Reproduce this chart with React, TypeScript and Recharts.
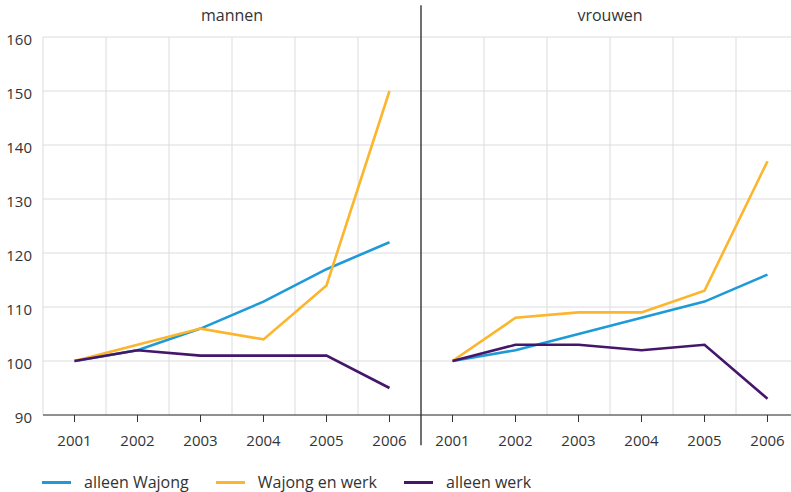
import { LineChart, Line, XAxis, YAxis, CartesianGrid, ReferenceLine } from 'recharts';

const years = ['2001', '2002', '2003', '2004', '2005', '2006'];
const panels = ['mannen', 'vrouwen'];
const seriesNames = ['alleen Wajong', 'Wajong en werk', 'alleen werk'];
const seriesColors = ['#1f9ad8', '#fcb52c', '#44176b'];

const mannenAlleenWajong = [100, 102, 106, 111, 117, 122];
const mannenWajongEnWerk = [100, 103, 106, 104, 114, 150];
const mannenAlleenWerk = [100, 102, 101, 101, 101, 95];
const vrouwenAlleenWajong = [100, 102, 105, 108, 111, 116];
const vrouwenWajongEnWerk = [100, 108, 109, 109, 113, 137];
const vrouwenAlleenWerk = [100, 103, 103, 102, 103, 93];

const yTicks = [90, 100, 110, 120, 130, 140, 150, 160];

const panelSeries = [
  [mannenAlleenWajong, mannenWajongEnWerk, mannenAlleenWerk],
  [vrouwenAlleenWajong, vrouwenWajongEnWerk, vrouwenAlleenWerk],
];

// one row per x slot: 6 for mannen, then 6 for vrouwen
const data = panels.flatMap((_, p) =>
  years.map((year, i) => {
    const row: Record<string, number | string> = { idx: p * years.length + i, year };
    panelSeries[p].forEach((vals, s) => {
      row[`p${p}s${s}`] = vals[i];
    });
    return row;
  })
);

const n = years.length * panels.length;
const xDomain = [-0.5, n - 0.5];
const xTicks = data.map((d) => d.idx as number);
const bandEdges = Array.from({ length: n + 1 }, (_, i) => i - 0.5).filter(
  (v) => v !== years.length - 0.5
);

const font = '"Open Sans", sans-serif';
const textColor = '#333';

// vertical grid sits on the band edges between the years
const bandGrid = ({ offset }: any) =>
  bandEdges.map((v) => offset.left + ((v - xDomain[0]) / (xDomain[1] - xDomain[0])) * offset.width);

export default function App() {
  return (
    <div
      style={{
        position: 'absolute',
        left: 0,
        top: 0,
        width: 791,
        height: 492,
        overflow: 'hidden',
        background: '#fff',
        fontFamily: font,
      }}
    >
      <LineChart width={799} height={492} data={data} margin={{ top: 37, right: 0, bottom: 0, left: 0 }}>
        <CartesianGrid stroke="#dcdcdc" strokeWidth={1} verticalCoordinatesGenerator={bandGrid} />
        <XAxis
          dataKey="idx"
          type="number"
          domain={xDomain}
          ticks={xTicks}
          tickFormatter={(v: number) => years[v % years.length]}
          height={77}
          tickSize={7}
          tickMargin={13}
          stroke="#333"
          tick={{ fill: textColor, fontSize: 15, fontFamily: font }}
        />
        <YAxis
          domain={[90, 160]}
          ticks={yTicks}
          width={43}
          axisLine={false}
          tickLine={false}
          tickSize={0}
          tickMargin={11}
          tick={{ fill: textColor, fontSize: 15, fontFamily: font, dy: 3 }}
        />
        {panels.map((title, p) => (
          <ReferenceLine
            key={title}
            x={p * years.length + (years.length - 1) / 2}
            stroke="none"
            label={{ value: title, position: 'top', offset: 16, fill: textColor, fontSize: 16, fontFamily: font }}
          />
        ))}
        <ReferenceLine
          segment={[
            { x: years.length - 0.5, y: 165.9 },
            { x: years.length - 0.5, y: 84.4 },
          ]}
          ifOverflow="visible"
          stroke="#111"
          strokeWidth={1.2}
        />
        {panels.flatMap((_, p) =>
          seriesNames.map((name, s) => (
            <Line
              key={`p${p}s${s}`}
              dataKey={`p${p}s${s}`}
              name={name}
              stroke={seriesColors[s]}
              strokeWidth={2.6}
              dot={false}
              activeDot={false}
              isAnimationActive={false}
            />
          ))
        )}
      </LineChart>
      <div
        style={{
          position: 'absolute',
          left: 42,
          top: 470,
          width: 740,
          display: 'flex',
          alignItems: 'center',
          fontSize: 16,
          color: textColor,
          lineHeight: '24px',
          whiteSpace: 'nowrap',
        }}
      >
        {seriesNames.map((name, s) => (
          <div key={name} style={{ display: 'flex', alignItems: 'center', marginRight: 27, flexShrink: 0 }}>
            <div
              style={{ width: 29, minWidth: 29, height: 3, background: seriesColors[s], marginRight: 13, flexShrink: 0 }}
            />
            <span>{name}</span>
          </div>
        ))}
      </div>
    </div>
  );
}
